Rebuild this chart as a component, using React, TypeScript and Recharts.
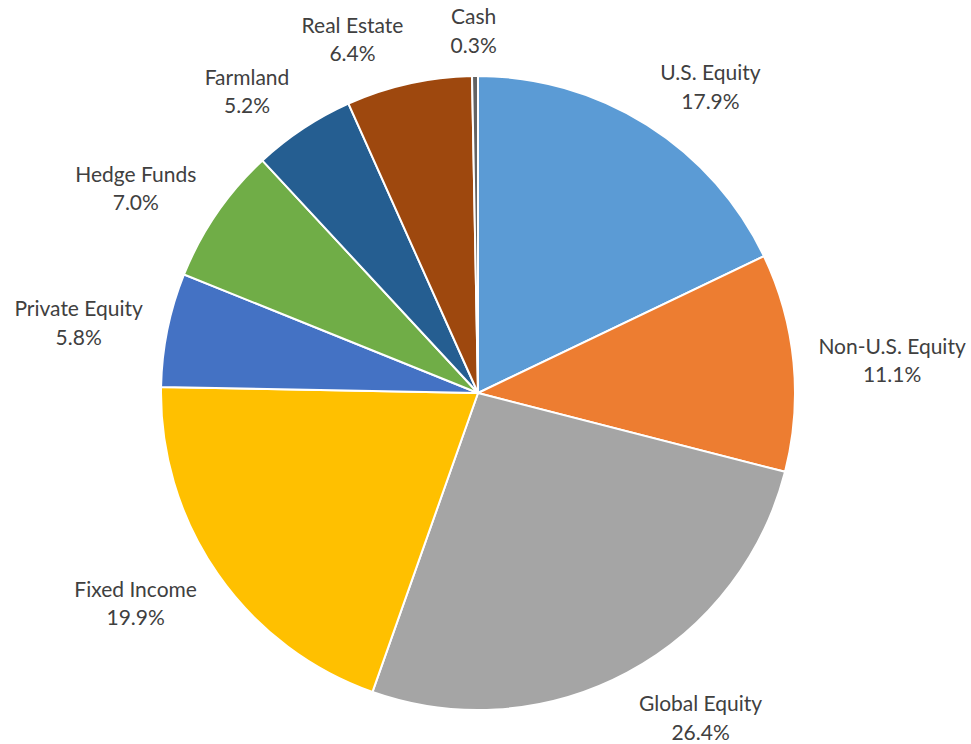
import { Cell, Pie, PieChart } from 'recharts';

const categories = [
  'U.S. Equity',
  'Non-U.S. Equity',
  'Global Equity',
  'Fixed Income',
  'Private Equity',
  'Hedge Funds',
  'Farmland',
  'Real Estate',
  'Cash',
];

const allocation = [17.9, 11.1, 26.4, 19.9, 5.8, 7.0, 5.2, 6.4, 0.3];

const sliceColors = [
  '#5B9BD5',
  '#ED7D31',
  '#A5A5A5',
  '#FFC000',
  '#4472C4',
  '#70AD47',
  '#255E91',
  '#9E480E',
  '#636363',
];

const data = categories.map((name, i) => ({ name, value: allocation[i] }));

const RAD = Math.PI / 180;
const FONT_SIZE = 21;
const FONT = 'Lato, "Open Sans", sans-serif';

let ctx: CanvasRenderingContext2D | null = null;
function textWidth(s: string) {
  if (!ctx) {
    ctx = document.createElement('canvas').getContext('2d');
  }
  if (!ctx) return s.length * 10;
  ctx.font = `${FONT_SIZE}px Lato`;
  return ctx.measureText(s).width;
}

// outside-end label, box pushed away from the pie edge (roughly like Excel's best fit)
function SliceLabel(props: any) {
  const { cx, cy, midAngle, outerRadius, name, value } = props;
  const ux = Math.cos(-midAngle * RAD);
  const uy = Math.sin(-midAngle * RAD);
  const w = Math.max(textWidth(name), textWidth(`${value}%`));
  const h = 56;
  const side = Math.max(-1, Math.min(1, ux * 5));
  const x = cx + (outerRadius + 25) * ux + (w / 2) * side;
  const y = cy + (outerRadius + 20) * uy + (h / 2) * uy;

  return (
    <text x={x} y={y - 4} textAnchor="middle" fill="#404040" fontFamily={FONT} fontSize={FONT_SIZE}>
      <tspan x={x}>{name}</tspan>
      <tspan x={x} dy={28.5}>{`${value.toFixed(1)}%`}</tspan>
    </text>
  );
}

export default function App() {
  return (
    <div style={{ position: 'absolute', left: 0, top: 0, width: 971, height: 744, background: '#FFFFFF' }}>
      <PieChart width={971} height={744} margin={{ top: 0, right: 0, bottom: 0, left: 0 }}>
        <Pie
          data={data}
          dataKey="value"
          nameKey="name"
          cx={478}
          cy={393}
          outerRadius={317}
          startAngle={90}
          endAngle={-270}
          stroke="#FFFFFF"
          strokeWidth={2}
          labelLine={false}
          label={SliceLabel}
          isAnimationActive={false}
        >
          {data.map((entry, i) => (
            <Cell key={entry.name} fill={sliceColors[i]} />
          ))}
        </Pie>
      </PieChart>
    </div>
  );
}
